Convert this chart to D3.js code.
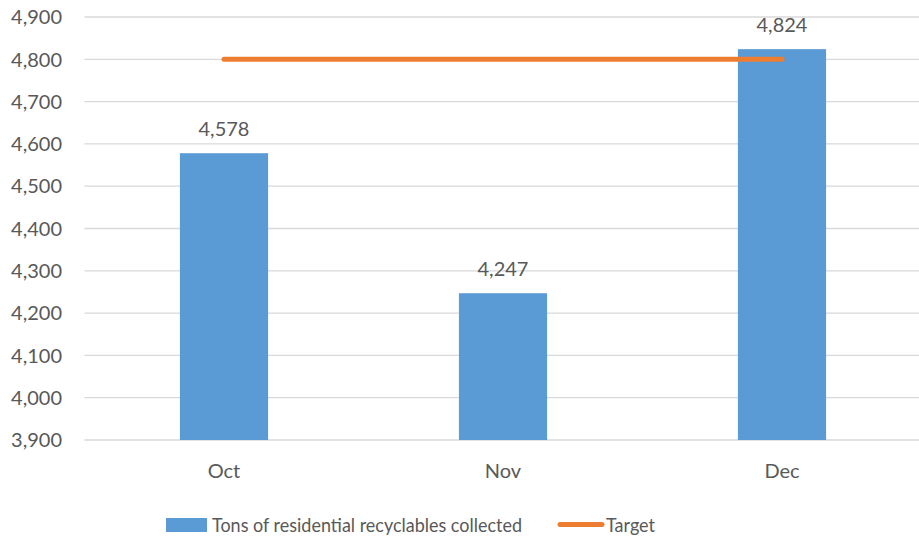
<!DOCTYPE html>
<html><head><meta charset="utf-8">
<script src="https://cdn.jsdelivr.net/npm/d3@7"></script>
<style>body{margin:0;background:#fff}svg{display:block}text{font-family:Lato,"Open Sans",sans-serif;fill:#595959}</style>
</head><body>
<svg id="c" width="919" height="538"></svg>
<script>
const categories = ["Oct", "Nov", "Dec"];
const tons = [4578, 4247, 4824];
const target = [4800, 4800, 4800];
const yTicks = [3900, 4000, 4100, 4200, 4300, 4400, 4500, 4600, 4700, 4800, 4900];
const seriesNames = ["Tons of residential recyclables collected", "Target"];

(function () {
const svg = d3.select("#c");
const pLeft = 84.5, pRight = 921.5, pTop = 17, pBottom = 440;
const x = d3.scaleBand().domain(categories).range([pLeft, pRight]).paddingInner(0.684).paddingOuter(0.342);
const y = d3.scaleLinear().domain([3900, 4900]).range([pBottom, pTop]);
const fmt = d3.format(",");
const fs = 20;

// gridlines
svg.append("g").selectAll("line").data(yTicks).join("line")
  .attr("x1", pLeft).attr("x2", 919).attr("y1", d => y(d)).attr("y2", d => y(d))
  .attr("stroke", "#D9D9D9").attr("stroke-width", 1.3);
// y labels
svg.append("g").selectAll("text").data(yTicks).join("text")
  .attr("x", 62).attr("y", d => y(d)).attr("dy", "0.36em").attr("text-anchor", "end")
  .attr("font-size", fs).text(d => fmt(d));
// bars
svg.append("g").selectAll("rect").data(tons).join("rect")
  .attr("x", (d, i) => x(categories[i])).attr("width", x.bandwidth())
  .attr("y", d => y(d)).attr("height", d => pBottom - y(d)).attr("fill", "#5B9BD5");
// data labels
svg.append("g").selectAll("text").data(tons).join("text")
  .attr("x", (d, i) => x(categories[i]) + x.bandwidth() / 2).attr("y", d => y(d) - 17)
  .attr("text-anchor", "middle").attr("font-size", fs).attr("fill", "#404040").text(d => fmt(d));
// target line
const line = d3.line().x((d, i) => x(categories[i]) + x.bandwidth() / 2).y(d => y(d));
svg.append("path").datum(target).attr("d", line).attr("fill", "none")
  .attr("stroke", "#ED7D31").attr("stroke-width", 5).attr("stroke-linecap", "round");
// x labels
svg.append("g").selectAll("text").data(categories).join("text")
  .attr("x", d => x(d) + x.bandwidth() / 2).attr("y", 478).attr("text-anchor", "middle")
  .attr("font-size", fs).text(d => d);
// legend
const lg = svg.append("g");
lg.append("rect").attr("x", 166).attr("y", 518).attr("width", 41).attr("height", 14).attr("fill", "#5B9BD5");
lg.append("text").attr("x", 212).attr("y", 532).attr("font-size", fs)
  .attr("textLength", 310).attr("lengthAdjust", "spacingAndGlyphs").text(seriesNames[0]);
lg.append("line").attr("x1", 560).attr("x2", 602).attr("y1", 524.5).attr("y2", 524.5)
  .attr("stroke", "#ED7D31").attr("stroke-width", 5).attr("stroke-linecap", "round");
lg.append("text").attr("x", 606).attr("y", 532).attr("font-size", fs)
  .attr("textLength", 49).attr("lengthAdjust", "spacingAndGlyphs").text(seriesNames[1]);
})();
</script>
</body></html>
